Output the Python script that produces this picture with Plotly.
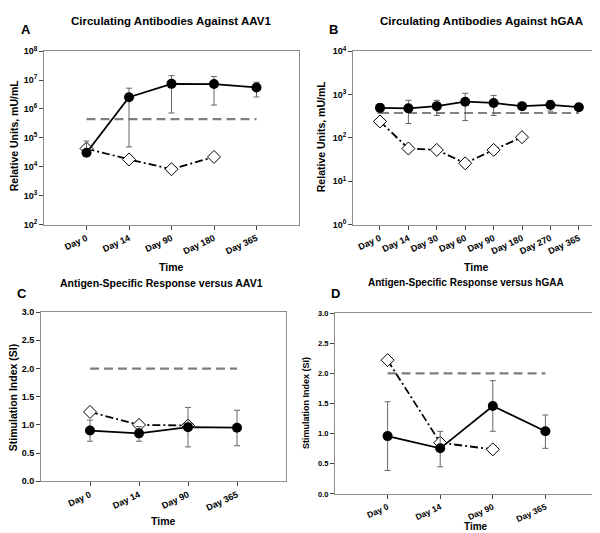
import math
import plotly.graph_objects as go

# ---- data ----
days_a = ["Day 0", "Day 14", "Day 90", "Day 180", "Day 365"]
aav1_ab = [3.05e4, 2.56e6, 7.4e6, 7.3e6, 5.55e6]
aav1_ab_hi = [7.8e4, 5.25e6, 1.42e7, 1.32e7, 8.4e6]
aav1_ab_lo = [2.6e4, 4.9e4, 7.3e5, 1.37e6, 2.6e6]
aav1_ctrl = [4.3e4, 1.8e4, 8.3e3, 2.2e4]
aav1_cut = 4.45e5

days_b = ["Day 0", "Day 14", "Day 30", "Day 60", "Day 90", "Day 180", "Day 270", "Day 365"]
hgaa_ab = [492, 480, 540, 684, 640, 540, 575, 510]
hgaa_ab_hi = [620, 736, 736, 1070, 955, 560, 735, 530]
hgaa_ab_lo = [375, 215, 330, 251, 330, 520, 415, 490]
hgaa_ctrl = [240, 57, 53, 26, 53, 104]
hgaa_cut = 375

days_cd = ["Day 0", "Day 14", "Day 90", "Day 365"]
aav1_si = [0.90, 0.85, 0.96, 0.95]
aav1_si_hi = [1.085, 0.97, 1.31, 1.26]
aav1_si_lo = [0.71, 0.71, 0.61, 0.63]
aav1_si_ctrl = [1.23, 1.0, 0.99]

hgaa_si = [0.96, 0.757, 1.46, 1.04]
hgaa_si_hi = [1.53, 1.04, 1.88, 1.31]
hgaa_si_lo = [0.39, 0.45, 1.04, 0.757]
hgaa_si_ctrl = [2.22, 0.85, 0.74]

si_cut = 2.0

W, H = 600, 533
FONT = "Liberation Sans, Arial, sans-serif"


def px_x(p):
    return p / W


def px_y(p):
    return 1 - p / H


def err(v, hi, lo):
    return dict(type="data", symmetric=False,
                array=[h - x for h, x in zip(hi, v)],
                arrayminus=[x - l for l, x in zip(lo, v)],
                color="#666666", thickness=1, width=3)


fig = go.Figure()


def add_panel(n, days, vals, hi, lo, ctrl, cut):
    xa = "x" if n == 1 else f"x{n}"
    ya = "y" if n == 1 else f"y{n}"
    # cut-off line
    fig.add_trace(go.Scatter(
        x=[days[0], days[-1]], y=[cut, cut], mode="lines",
        line=dict(color="#808080", width=2.2, dash="9px,5px"),
        xaxis=xa, yaxis=ya, showlegend=False, hoverinfo="skip"))
    # open diamonds, dash-dot
    fig.add_trace(go.Scatter(
        x=days[:len(ctrl)], y=ctrl, mode="lines+markers",
        line=dict(color="black", width=1.8, dash="8px,3px,2px,3px"),
        marker=dict(symbol="diamond", size=10, color="white",
                    line=dict(color="black", width=1)),
        xaxis=xa, yaxis=ya, showlegend=False))
    # filled circles with error bars
    fig.add_trace(go.Scatter(
        x=days, y=vals, mode="lines+markers",
        line=dict(color="black", width=1.8),
        marker=dict(symbol="circle", size=10, color="black"),
        error_y=err(vals, hi, lo),
        xaxis=xa, yaxis=ya, showlegend=False))


add_panel(1, days_a, aav1_ab, aav1_ab_hi, aav1_ab_lo, aav1_ctrl, aav1_cut)
add_panel(2, days_b, hgaa_ab, hgaa_ab_hi, hgaa_ab_lo, hgaa_ctrl, hgaa_cut)
add_panel(3, days_cd, aav1_si, aav1_si_hi, aav1_si_lo, aav1_si_ctrl, si_cut)
add_panel(4, days_cd, hgaa_si, hgaa_si_hi, hgaa_si_lo, hgaa_si_ctrl, si_cut)

tick_font = dict(family=FONT, size=9, color="black", weight="bold")
d_xfont = dict(family=FONT, size=8.5, color="black", weight="bold")
d_yfont = dict(family=FONT, size=7.5, color="black", weight="bold")

axis_common = dict(
    showline=True, linecolor="#8c8c8c", linewidth=1, mirror=True,
    ticks="outside", ticklen=4, tickcolor="#444", showgrid=False,
    zeroline=False, tickfont=tick_font,
)

log_a = [1e2, 1e3, 1e4, 1e5, 1e6, 1e7, 1e8]
log_b = [1e0, 1e1, 1e2, 1e3, 1e4]
si_ticks = [0.0, 0.5, 1.0, 1.5, 2.0, 2.5, 3.0]


def sup(vals):
    return ["10<sup>%d</sup>" % round(math.log10(v)) for v in vals]


def cat_axis(days, dom, anchor, rng, font=tick_font):
    return dict(axis_common, domain=dom, anchor=anchor, type="category",
                categoryorder="array", categoryarray=days, range=rng,
                tickangle=-25, tickfont=font)


fig.update_layout(
    width=W, height=H, margin=dict(l=0, r=0, t=0, b=0),
    plot_bgcolor="white", paper_bgcolor="white",
    font=dict(family=FONT, color="black"),
    xaxis=cat_axis(days_a, [px_x(36), px_x(291)], "y", [-1, 5]),
    yaxis=dict(axis_common, domain=[px_y(214.5), px_y(37)], anchor="x",
               type="log", range=[2, 8], tickvals=log_a, ticktext=sup(log_a)),
    xaxis2=cat_axis(days_b, [px_x(345), px_x(593)], "y2", [-0.95, 7.78]),
    yaxis2=dict(axis_common, domain=[px_y(214.5), px_y(37)], anchor="x2",
                type="log", range=[0, 4], tickvals=log_b, ticktext=sup(log_b)),
    xaxis3=cat_axis(days_cd, [px_x(33), px_x(278)], "y3", [-1, 4]),
    yaxis3=dict(axis_common, domain=[px_y(477), px_y(304)], anchor="x3",
                range=[0, 3], tickvals=si_ticks, tickformat=".1f"),
    xaxis4=cat_axis(days_cd, [px_x(327), px_x(590)], "y4", [-1, 4], d_xfont),
    yaxis4=dict(axis_common, domain=[px_y(490), px_y(305)], anchor="x4",
                range=[0, 3], tickvals=si_ticks, tickformat=".1f",
                tickfont=d_yfont),
)


def label(text, x, y, size, angle=0):
    fig.add_annotation(text=text, x=px_x(x), y=px_y(y), xref="paper", yref="paper",
                       showarrow=False, textangle=angle, xanchor="center", yanchor="middle",
                       font=dict(family=FONT, size=size, color="black", weight="bold"))


label("Circulating Antibodies Against AAV1", 163, 6, 11.5)
label("Circulating Antibodies Against hGAA", 473, 6, 11.5)
label("Antigen-Specific Response versus AAV1", 153, 274, 10.5)
label("Antigen-Specific Response versus hGAA", 458, 274, 10)
label("A", 18, 15, 13)
label("B", 325, 15, 13)
label("C", 14, 285, 13)
label("D", 327, 285, 13)
label("Relative Units, mU/mL", 6, 124, 10.5, -90)
label("Relative Units, mU/mL", 313, 124, 10.5, -90)
label("Stimulation Index (SI)", 5, 392, 10.5, -90)
label("Stimulation Index (SI)", 298, 397, 9, -90)
label("Time", 163, 258, 10.5)
label("Time", 468, 258, 10.5)
label("Time", 155, 518, 10.5)
label("Time", 468, 523, 10)

fig.write_html("out.html")
